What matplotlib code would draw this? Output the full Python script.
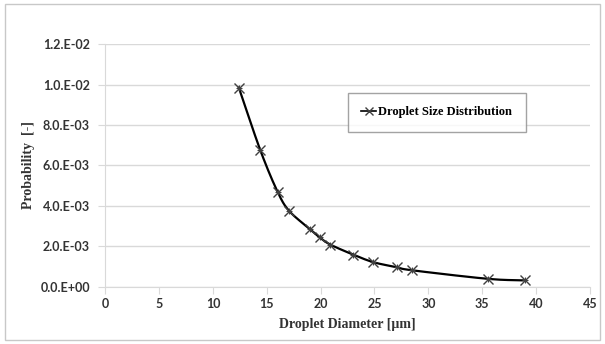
import numpy as np
import matplotlib.pyplot as plt
from matplotlib.ticker import FuncFormatter, MultipleLocator
from matplotlib.patches import Rectangle

diameter = [12.4, 14.4, 16.0, 17.1, 19.0, 19.9, 20.9, 23.0, 24.9, 27.1, 28.5, 35.5, 39.0]
probability = [9.85e-3, 6.75e-3, 4.7e-3, 3.74e-3, 2.86e-3, 2.45e-3, 2.09e-3,
               1.6e-3, 1.22e-3, 0.97e-3, 0.82e-3, 0.40e-3, 0.32e-3]
series_name = "Droplet Size Distribution"


def smooth_curve(x, y, n=20):
    # catmull-rom through the points, like the excel "smoothed line"
    x = np.asarray(x, float)
    y = np.asarray(y, float)
    px = np.concatenate([[2 * x[0] - x[1]], x, [2 * x[-1] - x[-2]]])
    py = np.concatenate([[2 * y[0] - y[1]], y, [2 * y[-1] - y[-2]]])
    xs, ys = [], []
    t = np.linspace(0, 1, n)
    for i in range(1, len(px) - 2):
        for p, out in ((px, xs), (py, ys)):
            p0, p1, p2, p3 = p[i - 1], p[i], p[i + 1], p[i + 2]
            out.extend(0.5 * (2 * p1 + (-p0 + p2) * t + (2 * p0 - 5 * p1 + 4 * p2 - p3) * t ** 2
                              + (-p0 + 3 * p1 - 3 * p2 + p3) * t ** 3))
    return xs, ys


def sci_fmt(v, pos):
    # labels in the reference read like "1.0.E-02"
    mant, exp = ("%.1E" % v).split("E")
    e = int(exp)
    sign = "-" if e < 0 else "+"
    return "%s.E%s%02d" % (mant, sign, abs(e))


fig = plt.figure(figsize=(6.05, 3.44), dpi=100)
fig.patches.append(Rectangle((0.008, 0.012), 0.984, 0.976, transform=fig.transFigure,
                             fill=False, edgecolor="#c8c8c8", linewidth=1))
ax = fig.add_axes([0.174, 0.166, 0.801, 0.706])

sx, sy = smooth_curve(diameter, probability)
ax.plot(sx, sy, color="black", linewidth=1.6, zorder=3)
ax.plot(diameter, probability, linestyle="none", marker="x", markersize=7,
        markeredgecolor="#404040", markeredgewidth=1.0, zorder=4)
ax.plot(diameter, probability, linestyle="none", marker="+", markersize=5,
        markeredgecolor="#404040", markeredgewidth=0.8, zorder=4)

ax.set_xlim(0, 45)
ax.set_ylim(0, 0.012)
ax.xaxis.set_major_locator(MultipleLocator(5))
ax.yaxis.set_major_locator(MultipleLocator(0.002))
ax.yaxis.set_major_formatter(FuncFormatter(sci_fmt))
ax.grid(axis="y", color="#d9d9d9", linewidth=1)
ax.set_axisbelow(True)

for side in ("top", "right"):
    ax.spines[side].set_visible(False)
ax.spines["left"].set_color("#d9d9d9")
ax.spines["bottom"].set_color("#d9d9d9")
ax.tick_params(axis="x", direction="out", length=5, color="#d9d9d9", pad=3)
ax.tick_params(axis="y", direction="out", length=5, color="#d9d9d9", pad=6)
for lab in ax.get_xticklabels() + ax.get_yticklabels():
    lab.set_fontfamily("Lato")
    lab.set_fontweight("bold")
    lab.set_fontsize(9)
    lab.set_color("#333333")

ax.set_xlabel("Droplet Diameter [\u00b5m]", fontfamily="Liberation Serif", fontweight="bold",
              fontsize=10, color="#333333", labelpad=6)
ax.set_ylabel("Probability  [-]", fontfamily="Liberation Serif", fontweight="bold",
              fontsize=10, color="#333333", labelpad=4)

leg_line, = ax.plot([], [], color="black", linewidth=1.2, marker="x", markersize=6,
                    markeredgecolor="#404040")
leg = ax.legend([leg_line], [series_name], loc="upper left",
                bbox_to_anchor=(0.5, 0.646, 0.369, 0.154), mode="expand",
                frameon=True, fancybox=False, borderpad=1.1, borderaxespad=0,
                handlelength=1.2, handletextpad=0.1,
                prop={"family": "Liberation Serif", "weight": "bold", "size": 9})
leg.get_frame().set_edgecolor("#8c8c8c")
leg.get_frame().set_linewidth(1)

fig.savefig("out.png", dpi=100)
